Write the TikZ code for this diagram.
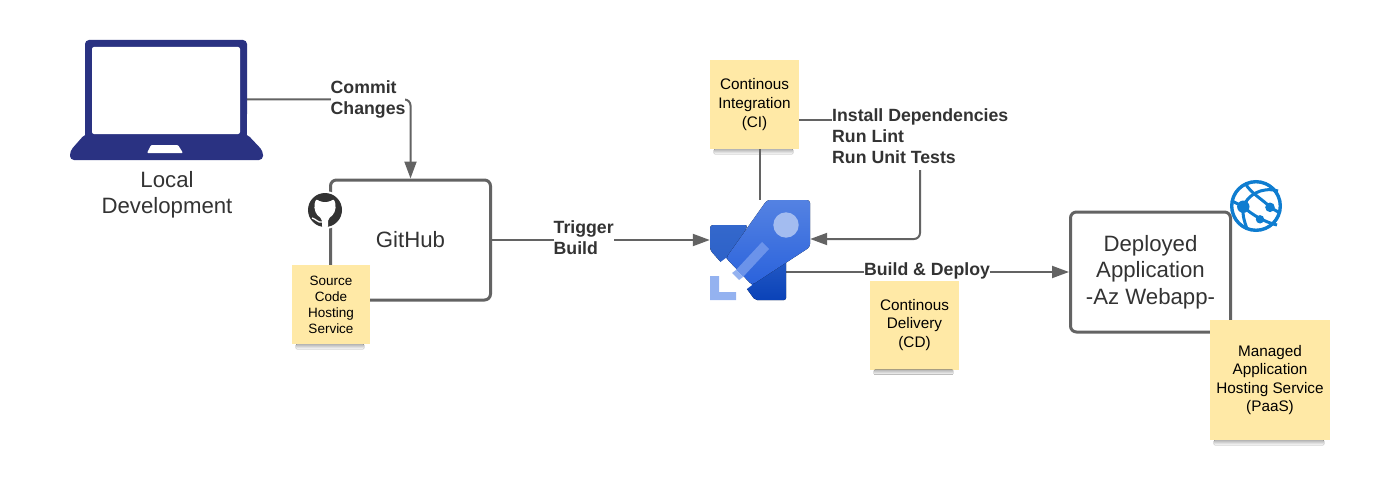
\documentclass[tikz,border=0pt]{standalone}
\usepackage{fontspec}
\setmainfont{Liberation Sans}
\usetikzlibrary{arrows.meta,positioning}
\definecolor{linegray}{HTML}{636363}
\definecolor{inkgray}{HTML}{333333}
\definecolor{notefill}{HTML}{FFE9A6}
\definecolor{laptopblue}{HTML}{2A3282}
\definecolor{azureblue}{HTML}{0F7DD0}
\definecolor{rockettop}{HTML}{5482E2}
\definecolor{rocketlow}{HTML}{2A62DC}
\definecolor{fintop}{HTML}{3468CC}
\definecolor{finlow}{HTML}{0A42B8}
\definecolor{rocketpale}{HTML}{A3BCF0}
\definecolor{rocketbar}{HTML}{6B93EA}
\definecolor{rocketend}{HTML}{94B2F0}

\begin{document}
\begin{tikzpicture}[
  x=1pt, y=-1pt,
  flow/.style={-{Triangle[length=17pt,width=12pt]}, line width=2pt, draw=linegray},
  plain/.style={line width=2pt, draw=linegray},
  appbox/.style={rectangle, draw=linegray, line width=3pt, rounded corners=6pt,
                 align=center, font=\fontsize{22.2pt}{26.5pt}\selectfont,
                 text=inkgray, minimum width=160pt, minimum height=120pt, inner sep=0pt},
  caption/.style={align=center, font=\fontsize{22.2pt}{26.5pt}\selectfont, text=inkgray, inner sep=0pt},
  tag/.style={align=left, font=\fontsize{17.7pt}{21.4pt}\selectfont\bfseries, text=inkgray,
              fill=white, inner sep=0pt},
  note/.style={rectangle, fill=notefill, align=center, inner sep=0pt,
               font=\fontsize{15.3pt}{18.6pt}\selectfont, text=black,
               minimum width=89pt, minimum height=89pt},
  smallnote/.style={note, font=\fontsize{13.5pt}{16pt}\selectfont,
                    minimum width=78pt, minimum height=79pt},
  bignote/.style={note, minimum width=120pt, minimum height=120pt},
  glink/.style={draw=azureblue, line width=3pt}
]
\useasboundingbox (0,0) rectangle (1385,495);

% named places
\coordinate (screen) at (247,99.5);
\node[minimum width=100pt, minimum height=100pt, inner sep=0pt] (pipeline) at (760,250) {};
\coordinate (fin) at (786,272);
\node[appbox] (github) at (410.5,240) {GitHub};
\node[appbox] (webapp) at (1150.5,272) {Deployed\\Application\\-Az Webapp-};

% github mark
\fill[white] (325,210) circle (19);
\fill[inkgray] (325,210) circle (17);
\fill[white, rounded corners=2pt] (322,228) -- (322,219) -- (316,214) -- (314,206) -- (316,199) -- (321,202) -- (329,202) -- (334,199) -- (336,206) -- (334,214) -- (328,219) -- (328,228) -- cycle;
\draw[white, line width=1.3pt] (322,222) .. controls (318,223) and (316,219) .. (312,218);

% stickies
\node[note] (ci) at (754.5,104.5) {Continous\\Integration\\(CI)};
\node[note] (cd) at (914.5,325) {Continous\\Delivery\\(CD)};
\node[smallnote] (source) at (331,304.5) {Source\\Code\\Hosting\\Service};
\node[bignote] (paas) at (1270,380) {Managed\\Application\\Hosting Service\\(PaaS)};
\foreach \n in {source,ci,cd,paas}
  \fill[top color=black!28, bottom color=white, rounded corners=1pt] ([xshift=4pt]\n.south west) rectangle ([xshift=-6pt,yshift=-5pt]\n.south east);

\node[tag, anchor=north west] (tasks) at (832,108) {Install Dependencies\\Run Lint\\Run Unit Tests};
\coordinate (taskend) at (920,170);

% connectors go below the labels
\draw[flow, rounded corners=6pt] (screen) -| (github.north);
\draw[flow] (github.east) -- (pipeline.west |- github.east);
\draw[plain] (pipeline.north |- ci.south) -- (pipeline.north);
\draw[plain] (ci.east |- 0,120) -- (tasks.west |- 0,120);
\draw[flow, rounded corners=6pt] (taskend) |- (pipeline.east |- 0,239);
\draw[flow] (fin) -- (webapp.west);

\node[tag, anchor=north west] (commit) at (330.5,80) {Commit\\Changes};
\node[tag, anchor=north west] (trigger) at (553.5,220) {Trigger\\Build};
\node[tag, anchor=center] (deploy) at (927,270.5) {Build \& Deploy};

% laptop
\fill[laptopblue, rounded corners=4pt] (85,40) rectangle (247,118);
\fill[laptopblue] (85,105) rectangle (247,136);
\fill[laptopblue, rounded corners=4pt] (85,134) -- (247,134) -- (263,151) -- (263,160) -- (70,160) -- (70,151) -- cycle;
\fill[white, rounded corners=2pt] (92,47) rectangle (240,134);
\fill[white, rounded corners=1pt] (151,145) -- (178,145) -- (183,153) -- (147,153) -- cycle;
\node[caption] (local) at (167,195) {Local\\Development};

% rocket
\fill[top color=fintop, bottom color=fintop!80!finlow, rounded corners=3pt] (710,225) -- (748,225) -- (726,268) -- (710,250) -- cycle;
\fill[top color=fintop!60!finlow, bottom color=finlow, rounded corners=2pt] (786,260) -- (786,300) -- (755,300) -- (744,285) -- cycle;
\fill[white] (726,258) -- (752,285) -- (744,291) -- (718,264) -- cycle;
\fill[top color=rockettop, bottom color=rocketlow, rounded corners=3pt] (767,200) -- (810,200) -- (810,247) -- (752,285) -- (726,258) -- cycle;
\fill[rocketpale] (786,225) circle (12.7);
\fill[rocketbar] (762,242) -- (769,249) -- (743,277) -- (736,270) -- cycle;
\fill[rocketend] (736,270) -- (743,277) -- (739,280) -- (732,273) -- cycle;
\fill[rocketend] (710,276) -- (719,276) -- (719,292) -- (736,292) -- (736,300) -- (710,300) -- cycle;

% globe
\node[circle, draw=azureblue, line width=3.4pt, minimum size=48.6pt, inner sep=0pt] (globe) at (1256,206) {};
\begin{scope}[shift={(globe.center)}]
  \fill[azureblue] (-12.7,0.7) circle (6.2) (14,1.3) circle (4.8) (4,13.3) circle (4.2);
  \draw[glink] (-11,-23) .. controls (-5,-12) and (8,-6) .. (14,1.3) -- (24,7);
  \draw[glink] (-12.7,0.7) .. controls (-9,-10) and (5,-20) .. (22,-15);
  \draw[glink] (-12.7,0.7) .. controls (-5,8) and (8,16) .. (21,19);
  \draw[glink] (-12.7,0.7) .. controls (-14,8) and (-12,14) .. (-9,23);
  \draw[glink] (-12.7,0.7) -- (-24,-5);
\end{scope}
\end{tikzpicture}
\end{document}
